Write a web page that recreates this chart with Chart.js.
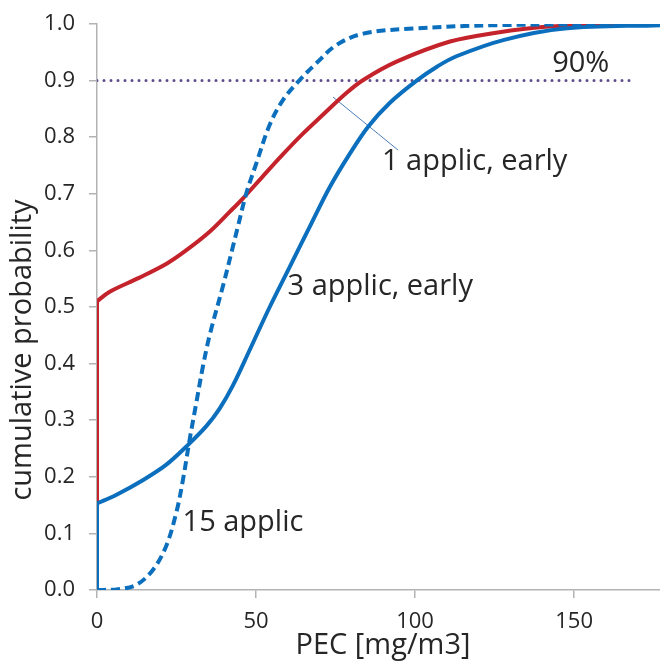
<!DOCTYPE html>
<html>
<head>
<meta charset="utf-8">
<script src="https://cdn.jsdelivr.net/npm/chart.js@4"></script>
<style>
  body { margin: 0; background: #fff; }
</style>
</head>
<body>
<canvas id="cdf-chart" width="660" height="661"></canvas>
<script>
// digitized cumulative distributions, x = PEC [mg/m3], y = cumulative probability
var oneApplic = [[0,0.51],[4,0.527],[13,0.551],[22,0.577],[28,0.60],[35.4,0.633],[41.7,0.668],[45.9,0.692],[52,0.730],[58.5,0.770],[64.5,0.805],[71.1,0.840],[78.4,0.878],[83.7,0.901],[94,0.933],[111,0.969],[126,0.985],[141,0.995],[160,0.999],[177,1.0]];
var oneApplicJump = [[0,0],[0,0.51]];

var threeApplic = [[0,0.153],[6,0.168],[14.4,0.194],[21.7,0.221],[28,0.253],[34.3,0.289],[38.5,0.320],[42.7,0.361],[48,0.424],[54.3,0.5],[60.6,0.571],[66.9,0.642],[73.2,0.712],[79.5,0.771],[85.3,0.819],[92.1,0.861],[100.5,0.900],[107,0.925],[113,0.943],[128,0.972],[147,0.992],[177,0.998]];
var threeApplicJump = [[0,0],[0,0.153]];

var fifteenApplic = [[0,0],[6,0.001],[12.3,0.009],[17.5,0.035],[21.7,0.077],[24.9,0.136],[27,0.194],[29.1,0.265],[31.2,0.33],[33.3,0.395],[35.5,0.452],[39.6,0.537],[42.7,0.606],[44.3,0.642],[46.9,0.700],[50.1,0.754],[54.3,0.822],[58.5,0.866],[63.7,0.901],[69,0.931],[75.3,0.963],[83.7,0.983],[99.4,0.992],[125.7,0.998],[177,1.0]];

var line90 = [[0,0.9],[168.7,0.9]];
var leader = [[74.2,0.871],[94.7,0.777]];

// text labels inside the plot
var labelTexts = ['90%', '1 applic, early', '3 applic, early', '15 applic'];
var labelX = [143.1, 89.6, 59.9, 26.9];
var labelY = [0.929, 0.756, 0.535, 0.118];

var xTitle = 'PEC [mg/m3]';
var yTitle = 'cumulative probability';

var FONT = "'Open Sans', sans-serif";
var TEXT = '#262626';
var RED = '#c4232b';
var BLUE = '#0b6fbd';

function pts(arr) {
    return arr.map(function(p) { return {x: p[0], y: p[1]}; });
}

var curveLabels = {
    id: 'curveLabels',
    afterDraw: function(chart) {
        var ctx = chart.ctx;
        var xs = chart.scales.x, ys = chart.scales.y;
        ctx.save();
        ctx.fillStyle = TEXT;
        ctx.textAlign = 'left';
        ctx.textBaseline = 'middle';
        ctx.font = '29px ' + FONT;
        for (var i = 0; i < labelTexts.length; i++) {
            ctx.fillText(labelTexts[i], xs.getPixelForValue(labelX[i]), ys.getPixelForValue(labelY[i]));
        }
        // axis titles (the y one sits below the middle of the axis in the original)
        ctx.textAlign = 'center';
        ctx.fillText(xTitle, 383, 646);
        ctx.translate(23, 350);
        ctx.rotate(-Math.PI / 2);
        ctx.fillText(yTitle, 0, 0);
        ctx.restore();
    }
};

new Chart(document.getElementById('cdf-chart'), {
    type: 'line',
    data: {
        datasets: [
            { data: pts(fifteenApplic), borderColor: BLUE, borderWidth: 4, borderDash: [9, 5], tension: 0.35 },
            { data: pts(threeApplic), borderColor: BLUE, borderWidth: 4, tension: 0.35 },
            { data: pts(threeApplicJump), borderColor: BLUE, borderWidth: 4, tension: 0 },
            { data: pts(oneApplic), borderColor: RED, borderWidth: 4, tension: 0.35 },
            { data: pts(oneApplicJump), borderColor: RED, borderWidth: 4, tension: 0 },
            { data: pts(leader), borderColor: '#4a7ebb', borderWidth: 1, tension: 0 },
            { data: pts(line90), borderColor: '#5e4b8b', borderWidth: 3, borderDash: [0, 7], borderCapStyle: 'round', tension: 0 }
        ]
    },
    options: {
        responsive: false,
        animation: false,
        elements: { point: { radius: 0 } },
        layout: { padding: { top: 24, right: 0, left: 0, bottom: 0 } },
        plugins: {
            legend: { display: false },
            tooltip: { enabled: false }
        },
        scales: {
            x: {
                type: 'linear',
                min: 0,
                max: 177,
                ticks: { stepSize: 50, includeBounds: false, color: TEXT, font: { family: FONT, size: 22 }, padding: 11, maxRotation: 0 },
                grid: { drawOnChartArea: false, tickLength: 8, color: '#b3b3b3', lineWidth: 1.5 },
                border: { color: '#b3b3b3', width: 1.5 },
                afterFit: function(s) { s.height = 71; }
            },
            y: {
                min: 0,
                max: 1,
                ticks: { stepSize: 0.1, color: TEXT, font: { family: FONT, size: 22 }, padding: 14,
                    callback: function(v) { return v.toFixed(1); } },
                grid: { drawOnChartArea: false, tickLength: 8, color: '#b3b3b3', lineWidth: 1.5 },
                border: { color: '#b3b3b3', width: 1.5 },
                afterFit: function(s) { s.width = 97; s.paddingTop = 0; s.paddingBottom = 0; }
            }
        }
    },
    plugins: [curveLabels]
});
</script>
</body>
</html>
